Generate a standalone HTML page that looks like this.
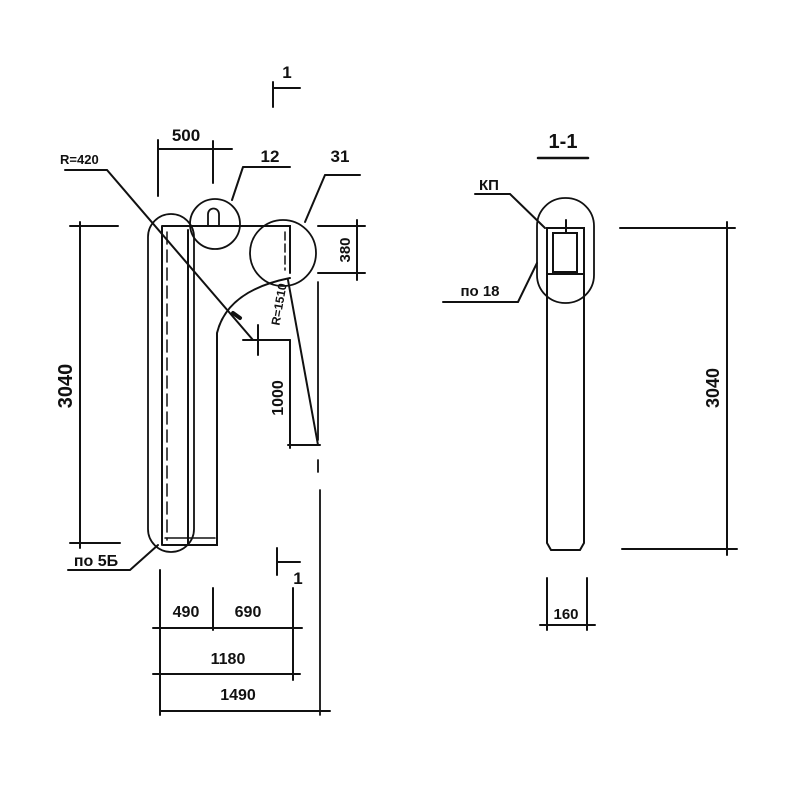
<!DOCTYPE html>
<html><head><meta charset="utf-8"><style>
html,body{margin:0;padding:0;background:#fff}
svg{display:block}
text{font-family:"Liberation Sans","DejaVu Sans",sans-serif;font-weight:bold;fill:#111}
</style></head><body>
<svg width="800" height="800" viewBox="0 0 800 800" xmlns="http://www.w3.org/2000/svg">
<g stroke="#111" stroke-width="2" fill="none" stroke-linecap="round">
<path d="M273 82 V107 M273 88 H300"/>
<path d="M162 226 H290 V273 M290 278 C255 285 225 300 217 333 V545 H163 M162 226 V545"/>
<path d="M188 230 V545"/>
<path d="M167 232 V540" stroke-dasharray="12 6" stroke-width="1.5"/>
<path d="M165 538 H215" stroke-width="1.5"/>
<path d="M285 232 V270" stroke-dasharray="8 4" stroke-width="1.5"/>
<rect x="148" y="214" width="46" height="338" rx="23" stroke-width="1.8"/>
<circle cx="215" cy="224" r="25" stroke-width="1.8"/>
<path d="M208 226 V214 A5 5 0 0 1 219 214 V226" stroke-width="1.8"/>
<circle cx="283" cy="253" r="33" stroke-width="1.8"/>
<path d="M158 149 H232 M158 140 V196 M213 141 V183"/>
<path d="M65 170 H107 L253 340"/>
<path d="M233 313 L240 318" stroke-width="4"/>
<path d="M243 340 H290 M258 325 V355"/>
<path d="M243 167 H290 M243 167 L232 200"/>
<path d="M325 175 H360 M325 175 L305 222"/>
<path d="M318 226 H365 M318 273 H365 M357 220 V280"/>
<path d="M288 280 L318 445 M288 445 H320 M290 340 V448"/>
<path d="M318 282 V440 M318 460 V472 M320 490 V715" stroke-width="1.8"/>
<path d="M70 226 H118 M80 222 V548 M70 543 H120"/>
<path d="M68 570 H130 L158 545"/>
<path d="M277 548 V575 M277 562 H300"/>
<path d="M160 570 V715 M213 588 V630 M293 588 V680"/>
<path d="M153 628 H302 M153 674 H300 M160 711 H330"/>
<path d="M538 158 H588" stroke-width="2.5"/>
<path d="M547 228 V543 L551 550 H580 L584 543 V228 Z"/>
<rect x="553" y="233" width="24" height="39"/>
<path d="M547 274 H584 M566 220 V232"/>
<rect x="537" y="198" width="57" height="105" rx="28" stroke-width="1.8"/>
<path d="M475 194 H510 L545 228"/>
<path d="M443 302 H518 L537 263"/>
<path d="M620 228 H735 M727 222 V555 M622 549 H737"/>
<path d="M547 578 V630 M587 578 V630 M540 625 H595"/>
</g>
<text x="287" y="78" font-size="17" text-anchor="middle">1</text>
<text x="298" y="584" font-size="17" text-anchor="middle">1</text>
<text x="186" y="141" font-size="17" text-anchor="middle">500</text>
<text x="60" y="164" font-size="13">R=420</text>
<text x="270" y="162" font-size="17" text-anchor="middle">12</text>
<text x="340" y="162" font-size="17" text-anchor="middle">31</text>
<text transform="translate(350,250) rotate(-90)" font-size="15" text-anchor="middle">380</text>
<text transform="translate(283,305) rotate(-80)" font-size="12" text-anchor="middle">R=1510</text>
<text transform="translate(283,398) rotate(-90)" font-size="16" text-anchor="middle">1000</text>
<text transform="translate(72,386) rotate(-90)" font-size="20" text-anchor="middle">3040</text>
<text x="96" y="566" font-size="16" text-anchor="middle">по 5Б</text>
<text x="186" y="617" font-size="16" text-anchor="middle">490</text>
<text x="248" y="617" font-size="16" text-anchor="middle">690</text>
<text x="228" y="664" font-size="16" text-anchor="middle">1180</text>
<text x="238" y="700" font-size="16" text-anchor="middle">1490</text>
<text x="563" y="148" font-size="20" text-anchor="middle">1-1</text>
<text x="489" y="190" font-size="15" text-anchor="middle">КП</text>
<text x="480" y="296" font-size="15" text-anchor="middle">по 18</text>
<text transform="translate(719,388) rotate(-90)" font-size="18" text-anchor="middle">3040</text>
<text x="566" y="619" font-size="15" text-anchor="middle">160</text>
</svg>
</body></html>
